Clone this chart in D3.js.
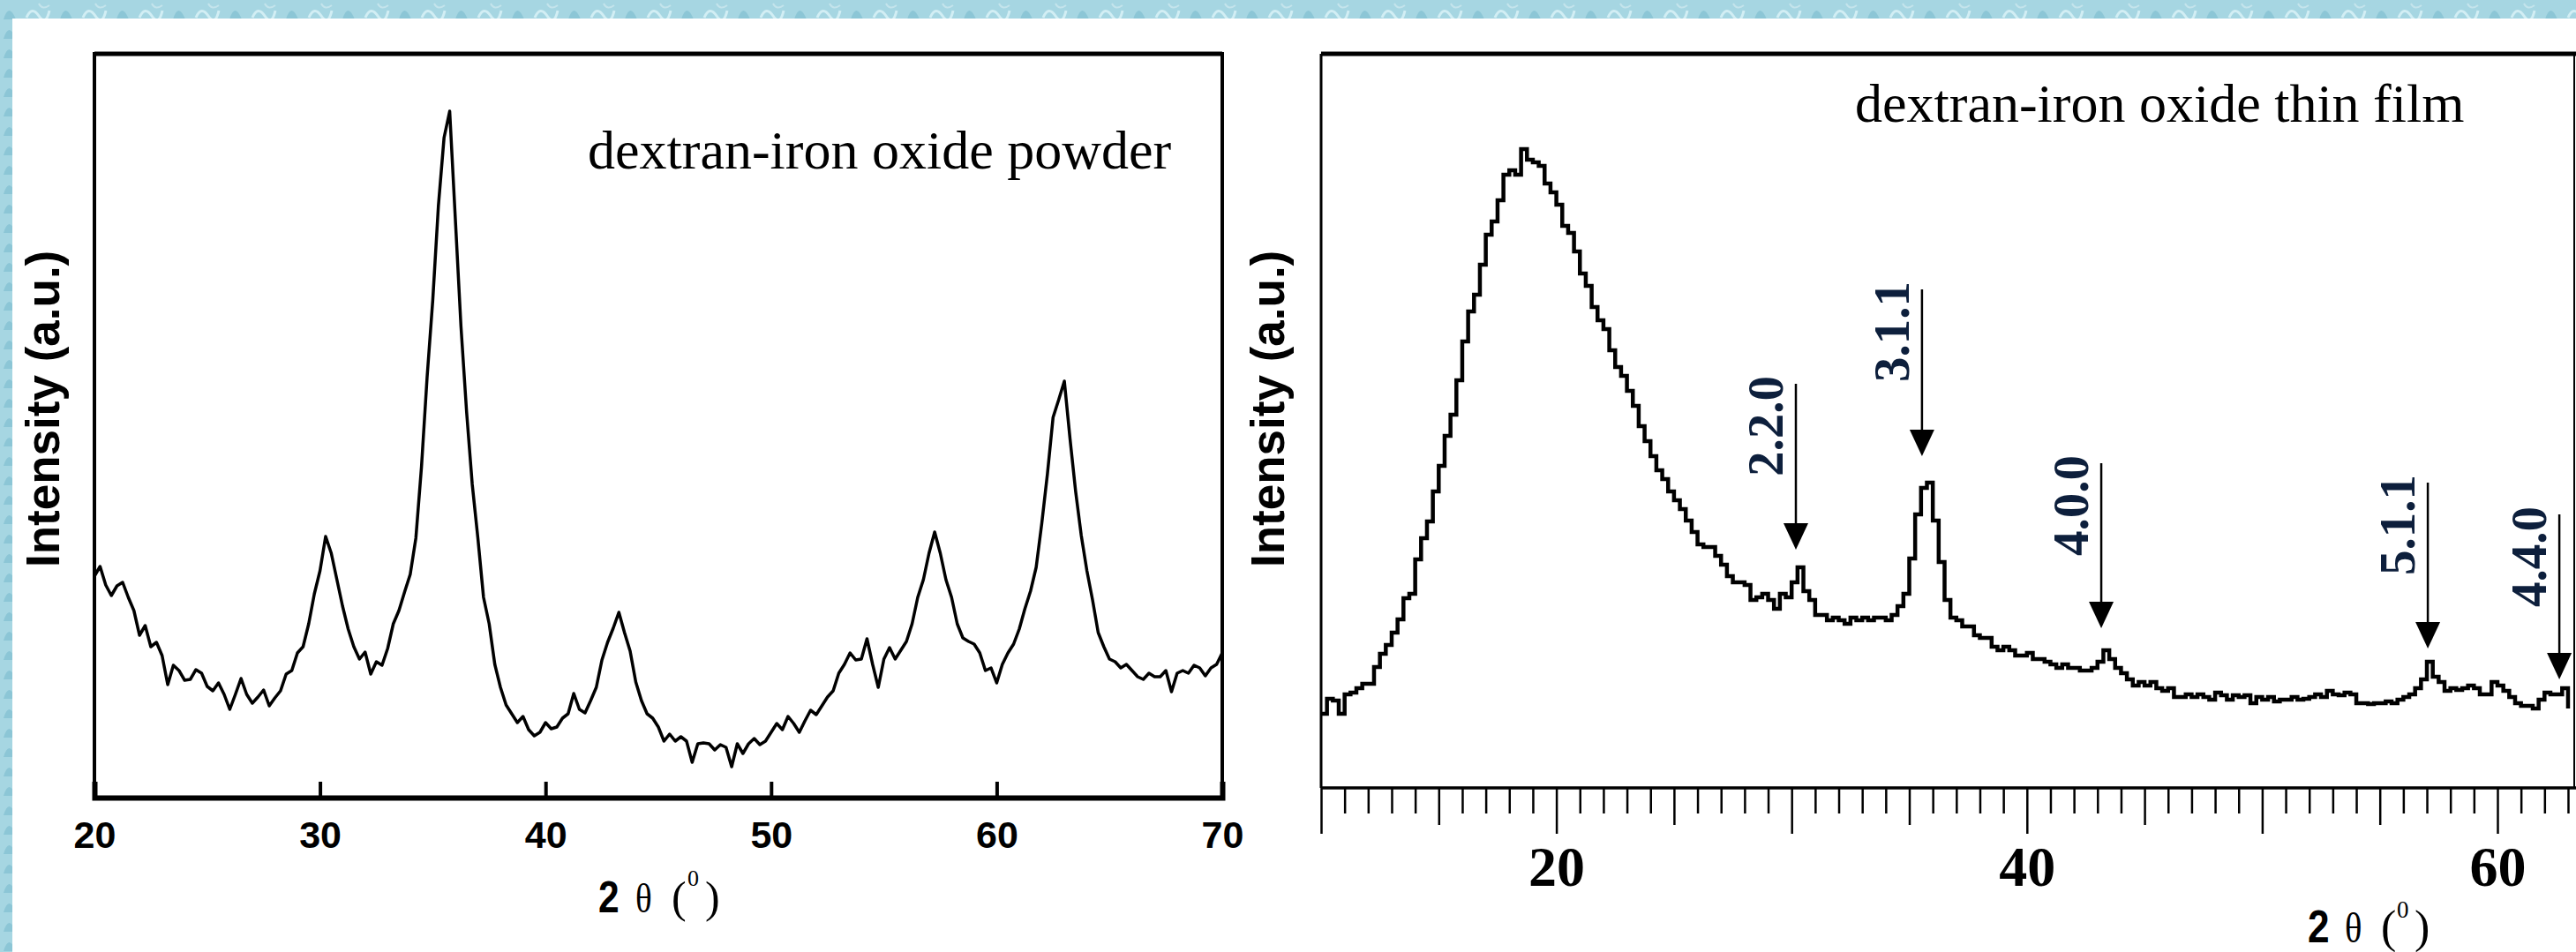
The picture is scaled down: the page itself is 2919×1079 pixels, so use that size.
<!DOCTYPE html>
<html>
<head>
<meta charset="utf-8">
<script src="https://cdn.jsdelivr.net/npm/d3@7"></script>
<style>
body { margin: 0; background: #fff; }
</style>
</head>
<body>
<div id="chart"></div>
<script>
let width = 2919
let height = 1079

// powder scan: 2theta from 20 to 70, one reading every 0.25 deg
let powderStart = 20
let powderStep = 0.25
let powderIntensity = [
	251, 262, 241, 229,  240, 244, 227, 212,  184, 195, 171, 176,  161, 128, 150, 144,
	133, 134, 145, 141,  126, 121, 130, 117,  100, 117, 135, 117,  107, 114, 122, 104,
	113, 121, 140, 144,  164, 171, 197, 231,  257, 296, 277, 247,  217, 191, 171, 157,
	165, 140, 154, 150,  169, 197, 212, 233,  253, 294, 375, 477,  564, 671, 748, 778,
	656, 534, 437, 355,  294, 227, 197, 151,  125, 105, 95, 85,    92, 77, 70, 74,
	85, 78, 80, 90,      95, 118, 100, 96,    110, 125, 156, 176,  192, 210, 187, 166,
	131, 110, 95, 90,    80, 64, 72, 64,      69, 64, 40, 61,      62, 61, 54, 60,
	57, 35, 61, 50,      61, 67, 60, 64,      74, 84, 77, 92,      84, 74, 87, 99,
	94, 104, 114, 121,   141, 151, 164, 156,  157, 180, 151, 125,  157, 170, 157, 167,
	177, 197, 227, 247,  277, 301, 277, 247,  227, 197, 181, 177,  174, 164, 144, 147,
	130, 151, 164, 174,  191, 214, 234, 261,  311, 367, 431, 451,  472, 407, 347, 297,
	257, 224, 187, 171,  157, 154, 147, 151,  144, 137, 134, 141,  137, 137, 144, 120,
	141, 144, 141, 150,  147, 138, 147, 151,  164
]

// thin film scan: 2theta from 10 to 63, one reading every 0.25 deg
let filmStart = 10
let filmStep = 0.25
let filmIntensity = [
	84, 101, 99, 84,     106, 108, 113, 118,  118, 137, 152, 162,  176, 191, 215, 220,
	259, 283, 302, 336,  365, 399, 423, 462,  506, 540, 559, 593,  627, 642, 666, 695,
	700, 695, 724, 712,  709, 705, 685, 675,  661, 637, 629, 608,  583, 569, 545, 530,
	520, 496, 477, 467,  450, 433, 410, 393,  376, 360, 350, 336,  326, 316, 303, 290,
	276, 273, 273, 263,  253, 240, 233, 233,  230, 213, 216, 220,  213, 203, 220, 216,
	233, 250, 223, 213,  196, 196, 190, 193,  190, 186, 193, 190,  193, 190, 193, 193,
	190, 196, 206, 220,  260, 310, 340, 346,  303, 256, 213, 193,  190, 183, 183, 173,
	170, 170, 160, 156,  160, 156, 150, 150,  153, 146, 146, 143,  140, 136, 140, 136,
	136, 133, 133, 136,  143, 156, 146, 136,  130, 123, 116, 120,  116, 120, 113, 110,
	113, 103, 103, 106,  103, 106, 103, 100,  108, 105, 100, 105,  103, 105, 96, 103,
	100, 103, 98, 100,   100, 103, 100, 101,  103, 106, 103, 110,  106, 105, 108, 106,
	96, 96, 95, 96,      96, 98, 96, 100,     103, 106, 113, 123,  143, 126, 120, 110,
	113, 111, 113, 116,  113, 106, 106, 120,  116, 110, 103, 96,   93, 93, 90, 100,
	108, 106, 106, 113,  90
]

let powderTicks = [20, 30, 40, 50, 60, 70]
let filmTickLabels = [20, 40, 60]

let hklLabels = ['2.2.0', '3.1.1', '4.0.0', '5.1.1', '4.4.0']
let hklAngle = [30.18, 35.54, 43.16, 57.04, 62.63]
let hklArrowTop = [458, 565, 368, 346, 310]
let hklArrowTip = [270, 376, 181, 158, 123]

let serif = "'Liberation Serif', 'Times New Roman', serif"
let sans = "'Liberation Sans', Arial, sans-serif"

const svg = d3.select('#chart')
	.append('svg')
	.attr('width', width)
	.attr('height', height)

// light blue slide border, top and left
let defs = svg.append('defs')
let tex = defs.append('pattern')
	.attr('id', 'tex')
	.attr('width', 64)
	.attr('height', 22)
	.attr('patternUnits', 'userSpaceOnUse')
tex.append('rect').attr('width', 64).attr('height', 22).attr('fill', '#a6d6e2')
tex.append('path').attr('d', 'M4 22 Q10 2 18 22').attr('fill', '#8cc6d6')
tex.append('path').attr('d', 'M30 20 q6 -14 14 -2 t12 -6').attr('stroke', '#d2eef4').attr('stroke-width', 3).attr('fill', 'none')
tex.append('path').attr('d', 'M44 4 q4 8 12 2').attr('stroke', '#c4e4ec').attr('stroke-width', 2).attr('fill', 'none')

svg.append('rect').attr('x', 0).attr('y', 0).attr('width', width).attr('height', 21).attr('fill', 'url(#tex)')
svg.append('rect').attr('x', 0).attr('y', 0).attr('width', 14).attr('height', height).attr('fill', 'url(#tex)')

function drawPowder(){

	let x = d3.scaleLinear().domain([20, 70]).range([107, 1385])
	let y = d3.scaleLinear().domain([0, 843]).range([904, 61])

	let line = d3.line()
		.x((d, i) => x(powderStart + i * powderStep))
		.y(d => y(d))

	svg.append('path')
		.datum(powderIntensity)
		.attr('d', line)
		.attr('fill', 'none')
		.attr('stroke', '#000')
		.attr('stroke-width', 3.5)
		.attr('stroke-linejoin', 'round')

	// frame
	svg.append('rect')
		.attr('x', x(20)).attr('y', y(843))
		.attr('width', x(70) - x(20)).attr('height', y(0) - y(843))
		.attr('fill', 'none').attr('stroke', '#000').attr('stroke-width', 4)
	svg.append('line')
		.attr('x1', x(20)).attr('x2', x(70)).attr('y1', y(843)).attr('y2', y(843))
		.attr('stroke', '#000').attr('stroke-width', 5)

	let axis = d3.axisBottom(x)
		.tickValues(powderTicks)
		.tickSize(-18)
		.tickPadding(26)

	let g = svg.append('g')
		.attr('transform', `translate(0,${y(0)})`)
		.call(axis)
	g.select('.domain')
		.attr('stroke', '#000').attr('stroke-width', 6)
	g.selectAll('.tick line').attr('stroke', '#000').attr('stroke-width', 4)
	g.selectAll('.tick text')
		.attr('fill', '#000')
		.attr('font-family', sans)
		.attr('font-weight', 'bold')
		.attr('font-size', 43)

	svg.append('text')
		.attr('transform', 'translate(67,643) rotate(-90)')
		.attr('font-family', sans).attr('font-weight', 'bold').attr('font-size', 53)
		.text('Intensity (a.u.)')

	svg.append('text')
		.attr('x', 666).attr('y', 191)
		.attr('font-family', serif).attr('font-size', 62)
		.text('dextran-iron oxide powder')

	axisTitle(678, 1034, 1004, 50)
}

function drawFilm(){

	let x = d3.scaleLinear().domain([10, 60]).range([1497, 2830])
	let y = d3.scaleLinear().domain([0, 832]).range([893, 61])

	let line = d3.line()
		.curve(d3.curveStepAfter)
		.x((d, i) => x(filmStart + i * filmStep))
		.y(d => y(d))

	svg.append('path')
		.datum(filmIntensity)
		.attr('d', line)
		.attr('fill', 'none')
		.attr('stroke', '#000')
		.attr('stroke-width', 4.5)

	// frame: heavy top, thin sides
	svg.append('line').attr('x1', x(10)).attr('x2', width).attr('y1', y(832)).attr('y2', y(832))
		.attr('stroke', '#000').attr('stroke-width', 5)
	svg.append('line').attr('x1', x(10)).attr('x2', x(10)).attr('y1', y(832)).attr('y2', y(0))
		.attr('stroke', '#000').attr('stroke-width', 3)
	svg.append('line').attr('x1', 2917).attr('x2', 2917).attr('y1', y(832)).attr('y2', y(0))
		.attr('stroke', '#000').attr('stroke-width', 2)

	let axis = d3.axisBottom(x)
		.tickValues(d3.range(10, 64))
		.tickSize(29)
		.tickPadding(37)
		.tickFormat(d => filmTickLabels.includes(d) ? d : '')

	let g = svg.append('g')
		.attr('transform', `translate(0,${y(0)})`)
		.call(axis)
	g.select('.domain').attr('d', `M${x(10)},0H${width}`).attr('stroke', '#000').attr('stroke-width', 3.5)
	g.selectAll('.tick line')
		.attr('stroke', '#000')
		.attr('stroke-width', 2.5)
		.attr('y2', d => d % 10 === 0 ? 52 : d % 5 === 0 ? 42 : 29)
	g.selectAll('.tick text')
		.attr('fill', '#000')
		.attr('font-family', serif)
		.attr('font-weight', 'bold')
		.attr('font-size', 64)

	// hkl arrows
	hklLabels.forEach((lab, i) => {
		let ax = x(hklAngle[i])
		let top = y(hklArrowTop[i])
		let tip = y(hklArrowTip[i])
		svg.append('line')
			.attr('x1', ax).attr('x2', ax).attr('y1', top).attr('y2', tip - 20)
			.attr('stroke', '#000').attr('stroke-width', 2.5)
		svg.append('path')
			.attr('d', `M${ax - 14},${tip - 30}L${ax + 14},${tip - 30}L${ax},${tip}Z`)
			.attr('fill', '#000')
		svg.append('text')
			.attr('transform', `translate(${ax - 15},${top + 105}) rotate(-90)`)
			.attr('font-family', serif).attr('font-weight', 'bold').attr('font-size', 57)
			.attr('fill', '#0d1f3c')
			.text(lab)
	})

	svg.append('text')
		.attr('transform', 'translate(1455,643) rotate(-90)')
		.attr('font-family', sans).attr('font-weight', 'bold').attr('font-size', 53)
		.text('Intensity (a.u.)')

	svg.append('text')
		.attr('x', 2102).attr('y', 138)
		.attr('font-family', serif).attr('font-size', 62)
		.text('dextran-iron oxide thin film')

	axisTitle(2615, 1068, 1040, 52)
}

// "2 θ (0)" with the degree zero raised
function axisTitle(x0, base, supBase, size){
	let t = svg.append('g')
	t.append('text').attr('x', x0).attr('y', base)
		.attr('font-family', sans).attr('font-weight', 'bold').attr('font-size', size)
		.attr('transform', `translate(${x0},0) scale(0.85,1) translate(${-x0},0)`)
		.text('2')
	t.append('text').attr('x', x0 + 42).attr('y', base)
		.attr('font-family', serif).attr('font-size', size * 0.92)
		.attr('transform', `translate(${x0 + 42},0) scale(0.85,1) translate(${-x0 - 42},0)`)
		.text('θ')
	t.append('text').attr('x', x0 + 83).attr('y', base)
		.attr('font-family', serif).attr('font-size', size)
		.text('(')
	t.append('text').attr('x', x0 + 101).attr('y', supBase)
		.attr('font-family', serif).attr('font-size', size * 0.52)
		.text('0')
	t.append('text').attr('x', x0 + 121).attr('y', base)
		.attr('font-family', serif).attr('font-size', size)
		.text(')')
}

drawPowder()
drawFilm()
</script>
</body>
</html>
